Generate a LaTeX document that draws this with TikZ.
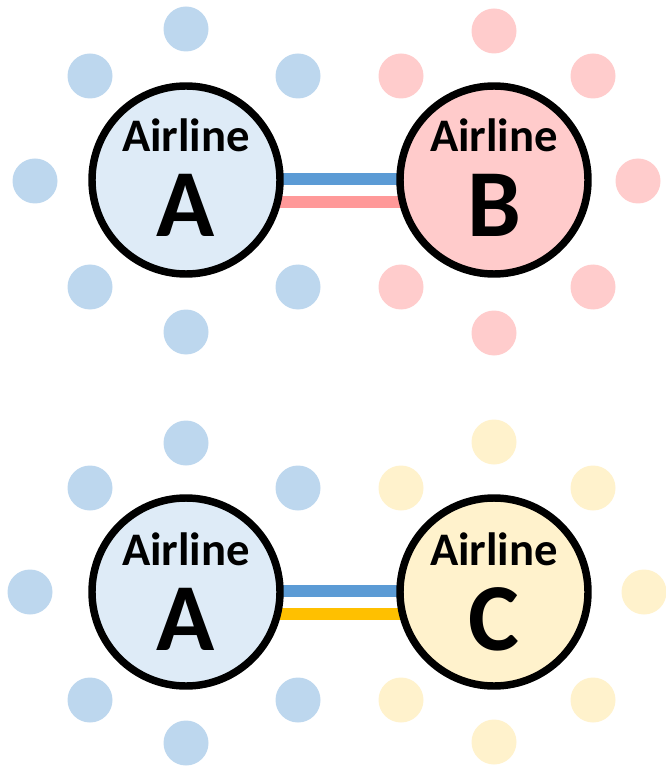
\documentclass[tikz,border=0pt]{standalone}
\usepackage{fontspec}
\setmainfont{Carlito}
\usetikzlibrary{backgrounds}

\definecolor{blueDot}{HTML}{BDD7EE}
\definecolor{blueHub}{HTML}{DEEBF7}
\definecolor{blueLink}{HTML}{5B9BD5}
\definecolor{redDot}{HTML}{FFCCCC}
\definecolor{redHub}{HTML}{FFCBCB}
\definecolor{redLink}{HTML}{FF9999}
\definecolor{yellowDot}{HTML}{FFF2CC}
\definecolor{yellowHub}{HTML}{FFF2CC}
\definecolor{yellowLink}{HTML}{FFC000}

\begin{document}
\begin{tikzpicture}[x=0.75pt,y=-0.75pt,
  hub/.style={circle,draw=black,line width=5.6pt,minimum size=141pt,inner sep=0pt},
  dot/.style={circle,minimum size=33.75pt,inner sep=0pt},
  hubname/.style={anchor=base,inner sep=0pt,font=\bfseries\fontsize{35}{35}\selectfont},
  hubletter/.style={anchor=base,inner sep=0pt,font=\bfseries\fontsize{72}{72}\selectfont},
  link/.style={line width=8.6pt}]
  \useasboundingbox (0,0) rectangle (665,766);

  % upper pair: airline A and airline B
  \foreach \x/\y [count=\i] in {186/29,90/76,298/76,35/181,90/287,298/287,186/332}
    \node[dot,fill=blueDot] (atop\i) at (\x,\y) {};
  \foreach \x/\y [count=\i] in {494/31,401/76,593/76,638/181,401/287,593/287,494/333}
    \node[dot,fill=redDot] (btop\i) at (\x,\y) {};
  \node[hub,fill=blueHub] (hubA1) at (186,180) {};
  \node[hub,fill=redHub] (hubB) at (494,180) {};
  \node[hubname] (nameA1) at (186,152) {Airline};
  \node[hubletter] (letterA1) at (186,237) {A};
  \node[hubname] (nameB) at (494,152) {Airline};
  \node[hubletter] (letterB) at (494,237) {B};
  \begin{scope}[on background layer]
    \draw[link,blueLink] ([yshift=0.75pt]hubA1.center) -- ([yshift=0.75pt]hubB.center);
    \draw[link,redLink] ([yshift=-16.5pt]hubA1.center) -- ([yshift=-16.5pt]hubB.center);
  \end{scope}

  % lower pair: airline A and airline C
  \foreach \x/\y [count=\i] in {186/443,90/488,298/488,30/592,90/700,298/700,186/743}
    \node[dot,fill=blueDot] (abot\i) at (\x,\y) {};
  \foreach \x/\y [count=\i] in {494/442,401/488,593/488,644/592,401/700,593/700,494/742}
    \node[dot,fill=yellowDot] (cbot\i) at (\x,\y) {};
  \node[hub,fill=blueHub] (hubA2) at (186,592) {};
  \node[hub,fill=yellowHub] (hubC) at (494,592) {};
  \node[hubname] (nameA2) at (186,565) {Airline};
  \node[hubletter] (letterA2) at (186,650) {A};
  \node[hubname] (nameC) at (494,565) {Airline};
  \node[hubletter] (letterC) at (494,650) {C};
  \begin{scope}[on background layer]
    \draw[link,blueLink] ([yshift=0.75pt]hubA2.center) -- ([yshift=0.75pt]hubC.center);
    \draw[link,yellowLink] ([yshift=-16.5pt]hubA2.center) -- ([yshift=-16.5pt]hubC.center);
  \end{scope}
\end{tikzpicture}
\end{document}
